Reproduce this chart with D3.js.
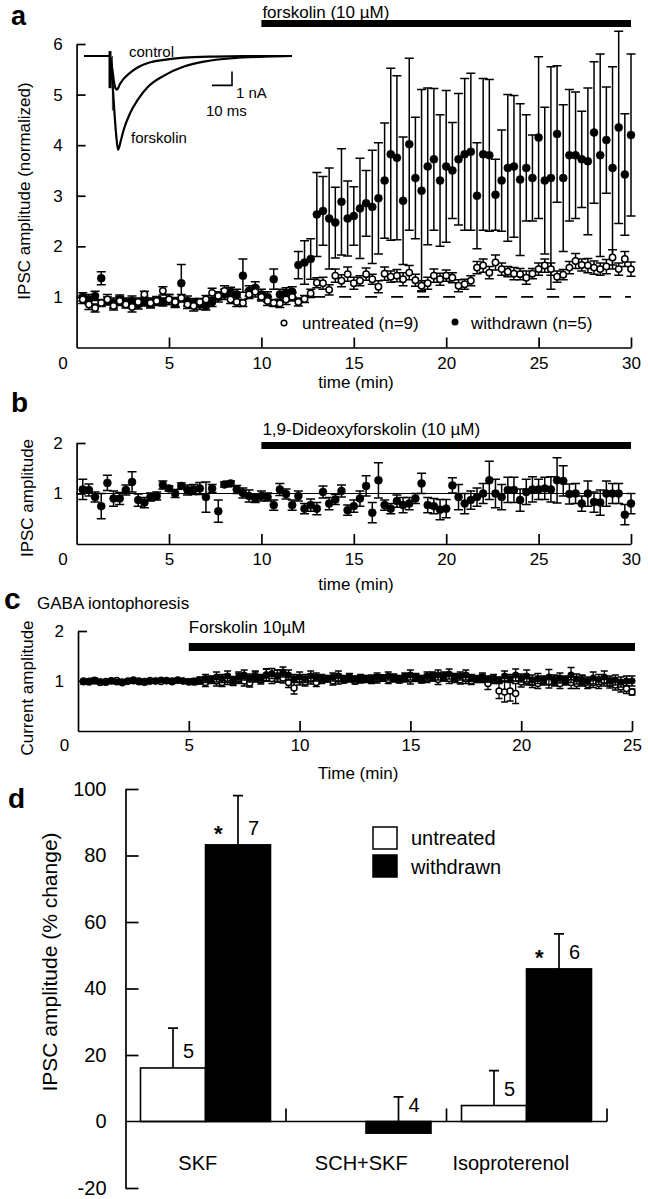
<!DOCTYPE html>
<html><head><meta charset="utf-8">
<script src="https://cdn.jsdelivr.net/npm/d3@7"></script>
<style>
body{margin:0;background:#fff}
svg{display:block}
text{font-family:"Liberation Sans",Arial,Helvetica,sans-serif;fill:#000}
</style></head>
<body><svg id="chart" width="648" height="1199"></svg>
<script>
// ---------------- DATA ----------------
// Panel a: sampled every 20 s (index i -> i/3 min), i = 1..90
const sampleStepA = 1/3;
const aUntreated = [0.95,0.85,0.78,0.88,0.95,0.82,0.92,0.85,0.8,0.9, 1.05,0.88,0.92,1.12,0.95,0.9,0.98,0.85,0.82,0.9,
 0.95,1.08,1.02,1.12,0.95,0.9,0.88,1.05,1.1,1.0, 0.92,0.88,0.87,0.95,1.0, 0.9,0.96,1.07,
 1.28,1.27,1.14,1.42,1.32,1.45,1.27,1.32,1.45,1.35, 1.2,1.46,1.40,1.42,1.35,1.48,1.33,1.22,1.27,1.42,
 1.35,1.42,1.38,1.22,1.25,1.32,1.58,1.62,1.48,1.68, 1.55,1.50,1.46,1.45,1.38,1.46,1.55,1.62,1.55,1.40,
 1.44,1.58,1.71,1.63,1.62,1.58,1.55,1.60,1.78,1.55, 1.75,1.55];
const aUntreatedErr = [.08,.1,.08,.07,.1,.08,.09,.07,.1,.08, .06,.08,.07,.08,.1,.09,.07,.08,.1,.07,
 .08,.09,.07,.1,.08,.09,.07,.08,.1,.08, .09,.07,.08,.1,.08, .08,.07,.08,
 .1,.12,.1,.13,.12,.14,.12,.1,.12,.1, .12,.13,.11,.12,.13,.14,.12,.1,.12,.13,
 .12,.11,.1,.12,.1,.1,.12,.13,.12,.15, .12,.1,.12,.11,.13,.1,.12,.13,.12,.11,
 .1,.12,.15,.12,.14,.13,.12,.14,.15,.12, .15,.14];
const aWithdrawn = [1.0,0.95,1.02,1.37,0.92,0.88,0.95,0.9,0.92,0.85, 0.9,0.88,0.92,0.9,0.95,0.88,1.27,0.92,0.88,0.85,
 0.82,0.9,1.0,1.05,1.1,1.05,1.42,1.12,1.18,1.05, 1.0,1.35,1.05,1.08,1.1,
 1.63,1.68,1.75,2.63,2.7,2.55,2.47,2.88,2.55,2.6, 2.75,2.85,2.78,2.95,3.3,3.82,3.75,2.9,4.02,3.35,
 3.1,3.58,3.72,3.3,3.58,3.5,3.72,3.82,3.87,3.0, 3.82,3.8,3.02,3.3,3.55,3.58,3.32,3.55,3.35,4.15,
 3.3,3.35,4.22,3.35,3.8,3.8,3.72,3.68,4.25,3.8, 4.1,3.55,4.35,3.42,4.2];
const aWithdrawnErr = [.08,.1,.09,.13,.08,.1,.09,.08,.1,.09, .08,.1,.09,.08,.1,.09,.37,.1,.09,.1,
 .08,.09,.1,.1,.09,.1,.33,.1,.12,.1, .1,.2,.1,.1,.1,
 .27,.43,.4,.83,.68,1.0,.7,1.05,.74,.58, .99,.65,1.12,1.1,1.14,1.7,1.62,1.26,1.7,1.2,
 2.0,1.55,1.4,1.3,1.5,0.95,1.3,1.5,1.55,1.05, 1.5,1.5,0.7,1.0,1.45,1.4,1.5,1.05,0.85,1.6,
 1.45,2.2,1.35,1.45,1.3,1.25,0.95,1.45,1.4,2.0, 1.05,2.0,1.9,1.2,1.6];
const drugA = [10, 30];
const dashStartA = 12.8;

// Inset traces (ms, nA)
const traceControl = [[0,0],[13,0],[14,-0.8],[15.5,-2.2],[16.5,-2.4],[18,-2.0],[20,-1.6],[23,-1.2],[27,-0.8],[32,-0.5],[40,-0.28],[50,-0.12],[65,-0.04],[80,-0.01],[104,0]];
const traceForskolin = [[0,0],[13,0],[14,-1.5],[16,-5.5],[17,-6.7],[18.5,-6.0],[20,-5.2],[23,-4.1],[27,-3.1],[32,-2.2],[40,-1.4],[50,-0.75],[60,-0.4],[75,-0.15],[90,-0.05],[104,0]];

// Panel b: 1,9-dideoxyforskolin, i = 1..90 every 20 s
const bVals = [1.08,1.07,0.93,0.75,1.21,0.90,0.90,1.07,1.23,0.87, 0.82,0.93,0.95,1.17,1.10,1.0,1.15,1.07,1.08,1.10,
 0.93,1.10,0.65,1.18,1.20,1.08,1.01,0.95,0.90,0.95, 0.93,0.77,1.08,0.99,0.77,0.95,0.70,0.77,0.70,1.03,
 0.80,0.88,1.05,0.67,0.75,0.90,1.15,0.62,1.26,0.77, 0.70,0.85,0.77,0.80,0.90,1.20,0.77,0.75,0.68,0.70,
 1.16,0.93,0.80,0.87,0.93,1.0,1.26,1.0,0.93,1.07, 1.07,0.87,1.03,1.08,1.08,1.10,1.08,1.26,1.25,0.99,
 1.0,0.80,1.0,0.83,0.82,1.0,1.0,1.0,0.58,0.80];
const bErr = [.2,.12,.1,.25,.15,.15,.12,.1,.2,.12, .1,.08,.08,.08,.05,.08,.06,.1,.1,.12,
 .3,.08,.22,.05,.05,.08,.1,.12,.08,.1, .08,.1,.12,.1,.1,.1,.1,.12,.12,.12,
 .12,.1,.12,.1,.12,.15,.2,.2,.35,.1, .1,.12,.15,.12,.1,.2,.15,.15,.2,.18,
 .15,.25,.2,.18,.18,.2,.38,.28,.25,.25, .25,.22,.25,.25,.2,.22,.25,.45,.3,.2,
 .2,.15,.25,.2,.25,.25,.2,.2,.2,.2];
const drugB = [10, 30];

// Panel c: GABA iontophoresis, i = 1..100 every 15 s
const sampleStepC = 0.25;
const cFilled = [0.98,1.0,1.02,0.99,0.97,1.01,0.98,0.96,0.99,1.0,0.98,0.97,0.99,1.0,1.02,1.0,0.98,1.01,1.0,0.99,
 1.0,1.02,1.05,1.03,1.08,1.05,1.1,1.02,1.08,1.12,1.06,1.1,1.05,1.12,1.15,1.1,1.18,1.12,1.05,1.08,
 1.05,1.1,1.08,1.06,1.04,1.08,1.1,1.05,1.07,1.04,1.06,1.03,1.05,1.08,1.06,1.1,1.07,1.05,1.08,1.12,
 1.06,1.05,1.1,1.08,1.12,1.1,1.14,1.08,1.1,1.12,1.06,1.05,1.08,1.04,1.06,1.02,1.1,1.05,1.12,1.06,
 1.1,1.02,1.05,1.0,1.08,1.02,1.06,1.0,1.12,1.04,1.02,1.0,1.06,1.03,1.08,1.0,1.02,0.98,1.0,1.0];
const cFilledErr = [.04,.03,.04,.03,.04,.03,.04,.03,.03,.04,.03,.04,.03,.04,.03,.04,.03,.04,.03,.04,
 .05,.06,.08,.07,.1,.08,.1,.07,.1,.1,.08,.1,.08,.12,.1,.12,.1,.1,.08,.1,
 .08,.1,.08,.07,.06,.08,.1,.06,.08,.06,.07,.06,.07,.08,.06,.08,.07,.06,.08,.1,
 .07,.06,.08,.08,.1,.08,.1,.07,.08,.1,.07,.06,.08,.06,.07,.06,.1,.08,.12,.08,
 .12,.1,.1,.08,.15,.1,.1,.08,.15,.1,.1,.08,.12,.1,.12,.1,.1,.1,.1,.1];
const cOpen = [1.0,0.98,1.0,0.97,0.99,1.0,1.01,0.98,1.0,1.02,1.0,0.99,1.01,1.0,0.99,1.01,1.0,1.02,1.0,0.98,
 0.98,1.0,0.97,1.02,1.0,0.97,1.03,0.98,1.05,1.0,0.96,1.08,1.02,1.12,1.05,1.1,1.06,0.97,0.86,1.02,
 0.98,1.04,0.97,1.02,1.05,1.0,1.04,1.02,1.06,1.0,1.03,1.05,1.02,1.04,1.06,1.03,1.05,1.02,1.06,1.04,
 1.08,1.02,1.05,1.1,1.03,1.08,1.05,1.04,1.02,1.05,1.0,1.03,1.05,0.95,1.02,0.8,0.78,0.8,0.75,0.98,
 1.0,0.97,0.95,1.02,0.98,1.0,0.95,1.02,0.97,0.95,1.0,0.93,0.97,0.95,1.0,0.96,0.92,0.88,0.85,0.78];
const cOpenErr = [.03,.03,.03,.03,.03,.03,.03,.03,.03,.03,.03,.03,.03,.03,.03,.03,.03,.03,.03,.03,
 .05,.06,.08,.07,.1,.08,.1,.07,.1,.1,.08,.1,.08,.12,.1,.12,.1,.1,.12,.1,
 .08,.1,.08,.07,.06,.08,.1,.06,.08,.06,.07,.06,.07,.08,.06,.08,.07,.06,.08,.1,
 .07,.06,.08,.08,.1,.08,.1,.07,.08,.1,.07,.06,.08,.12,.07,.15,.2,.2,.2,.1,
 .08,.1,.1,.08,.12,.1,.1,.08,.12,.1,.1,.08,.1,.1,.1,.1,.1,.1,.1,.06];
const drugC = [5, 25];

// Panel d: % change bars
const categoriesD = ["SKF","SCH+SKF","Isoproterenol"];
const groupsD = ["untreated","withdrawn"];
const untreatedPct = [16.1, null, 4.8];
const untreatedErr = [12.0, null, 10.5];
const untreatedN = ["5", null, "5"];
const withdrawnPct = [83.2, -3.5, 45.9];
const withdrawnErr = [14.8, 10.9, 10.5];
const withdrawnN = ["7", "4", "6"];
const significantD = [true, false, true];
const yTicksD = [-20,0,20,40,60,80,100];

// ---------------- DRAW ----------------
const FONT = '"Liberation Sans", Arial, Helvetica, sans-serif';
const svg = d3.select("#chart");
const AX = 1.7;

function styleAxis(g, fs){
  g.attr("font-family", FONT).attr("font-size", fs);
  g.selectAll("path.domain").attr("stroke","#000").attr("stroke-width",AX);
  g.selectAll(".tick line").attr("stroke","#000").attr("stroke-width",AX);
  g.selectAll("text").attr("fill","#000");
}
function txt(x, y, s, fs, opts={}){
  const t = svg.append("text").attr("x",x).attr("y",y).attr("font-size",fs).text(s);
  if(!opts.baseline) t.attr("dy","0.35em");
  if(opts.anchor) t.attr("text-anchor",opts.anchor);
  if(opts.weight) t.attr("font-weight",opts.weight);
  if(opts.rot){ t.attr("transform",`rotate(-90,${x},${y})`); }
  return t;
}
function scatter(g, xs, ys, times, vals, errs, opt){
  const idx = d3.range(vals.length);
  g.append("g").selectAll("path").data(idx).join("path")
    .attr("d", i => {
      const x = xs(times[i]), y1 = ys(vals[i]-errs[i]), y2 = ys(vals[i]+errs[i]), c = opt.cap;
      return `M${x},${y1}V${y2}M${x-c},${y1}H${x+c}M${x-c},${y2}H${x+c}`;
    })
    .attr("stroke","#000").attr("stroke-width",opt.sw).attr("fill","none");
  g.append("g").selectAll("circle").data(idx).join("circle")
    .attr("cx", i => xs(times[i])).attr("cy", i => ys(vals[i])).attr("r", opt.r)
    .attr("fill", opt.filled ? "#000" : "#fff").attr("stroke","#000")
    .attr("stroke-width", opt.filled ? 0.5 : 1.5);
}
const intFmt = d => String(d);

// ----- Panel a -----
const timesA = d3.range(1, aUntreated.length+1).map(i => i*sampleStepA);
const xA = d3.scaleLinear().domain([0,30]).range([76.6,631]);
const yA = d3.scaleLinear().domain([0,6]).range([347.5,44]);

txt(11, 25, "a", 27, {weight:"bold", baseline:true});
svg.append("rect").attr("x", xA(drugA[0])).attr("y",20).attr("width", xA(drugA[1])-xA(drugA[0])).attr("height",7).attr("fill","#000");
txt(xA(drugA[0])+1, 12, "forskolin (10 \u00b5M)", 17);

const gAy = svg.append("g").attr("transform",`translate(${xA(0)},0)`)
  .call(d3.axisLeft(yA).tickValues([1,2,3,4,5,6]).tickSize(-9).tickSizeOuter(0).tickPadding(14).tickFormat(intFmt));
styleAxis(gAy, 17);
const gAx = svg.append("g").attr("transform",`translate(0,${yA(0)})`)
  .call(d3.axisBottom(xA).tickValues([0,5,10,15,20,25,30]).tickSize(-10).tickSizeOuter(0).tickPadding(9).tickFormat(intFmt));
styleAxis(gAx, 17);
gAx.selectAll(".tick").filter(d => d === 0).select("text").attr("x",-14);
gAx.selectAll(".tick").filter(d => d === 0).select("line").remove();
txt(356, 382, "time (min)", 17, {anchor:"middle"});
txt(24, 191, "IPSC amplitude (normalized)", 17, {anchor:"middle", rot:true});

// dashed baseline
svg.append("line").attr("x1", xA(dashStartA)).attr("x2", xA(30)).attr("y1", yA(1)).attr("y2", yA(1))
  .attr("stroke","#000").attr("stroke-width",1.6).attr("stroke-dasharray","12,14");

const gA = svg.append("g");
scatter(gA, xA, yA, timesA, aWithdrawn, aWithdrawnErr, {filled:true, r:4, cap:4.5, sw:1.5});
scatter(gA, xA, yA, timesA, aUntreated, aUntreatedErr, {filled:false, r:3.2, cap:4.5, sw:1.5});

// legend a
svg.append("circle").attr("cx",284).attr("cy",323).attr("r",2.8).attr("fill","#fff").attr("stroke","#000").attr("stroke-width",1.5);
txt(302, 323, "untreated (n=9)", 17);
svg.append("circle").attr("cx",455).attr("cy",322).attr("r",3.5).attr("fill","#000");
txt(471, 323, "withdrawn (n=5)", 17);

// inset
const xI = d3.scaleLinear().domain([0,10]).range([84,104]);   // 10 ms = 20 px
const yI = d3.scaleLinear().domain([0,-1]).range([56,70]);     // 1 nA = 14 px
const lineI = d3.line().x(d => xI(d[0])).y(d => yI(d[1])).curve(d3.curveMonotoneX);
svg.append("path").attr("d", lineI(traceControl)).attr("fill","none").attr("stroke","#000").attr("stroke-width",2.2);
svg.append("path").attr("d", lineI(traceForskolin)).attr("fill","none").attr("stroke","#000").attr("stroke-width",2.2);
svg.append("line").attr("x1",xI(13)).attr("x2",xI(13)).attr("y1",yI(0.35)).attr("y2",yI(-2.3)).attr("stroke","#000").attr("stroke-width",3);
svg.append("line").attr("x1",xI(14.2)).attr("x2",xI(14.2)).attr("y1",yI(0)).attr("y2",yI(-3.9)).attr("stroke","#000").attr("stroke-width",0.8);
svg.append("path").attr("d",`M${xI(64)},${yI(-2.1)}H${xI(74)}V${yI(-1.1)}`).attr("fill","none").attr("stroke","#000").attr("stroke-width",1.6);
txt(236, 93, "1 nA", 15);
txt(206, 111, "10 ms", 15);
txt(129, 52, "control", 15);
txt(131, 138, "forskolin", 15);

// ----- Panel b -----
const xB = xA.copy();
const yB = d3.scaleLinear().domain([0,2]).range([544,443]);
txt(11, 412, "b", 28, {weight:"bold", baseline:true});
svg.append("rect").attr("x", xB(drugB[0])).attr("y",442).attr("width", xB(drugB[1])-xB(drugB[0])).attr("height",7).attr("fill","#000");
txt(xB(drugB[0])+1, 429, "1,9-Dideoxyforskolin (10 \u00b5M)", 17);
const gBy = svg.append("g").attr("transform",`translate(${xB(0)},0)`)
  .call(d3.axisLeft(yB).tickValues([1,2]).tickSize(-9).tickSizeOuter(0).tickPadding(14).tickFormat(intFmt));
styleAxis(gBy, 17);
const gBx = svg.append("g").attr("transform",`translate(0,${yB(0)})`)
  .call(d3.axisBottom(xB).tickValues([0,5,10,15,20,25,30]).tickSize(-10).tickSizeOuter(0).tickPadding(9).tickFormat(intFmt));
styleAxis(gBx, 17);
gBx.selectAll(".tick").filter(d => d === 0).select("text").attr("x",-14);
gBx.selectAll(".tick").filter(d => d === 0).select("line").remove();
txt(356, 584, "time (min)", 17, {anchor:"middle"});
txt(27, 498, "IPSC amplitude", 17, {anchor:"middle", rot:true});
svg.append("line").attr("x1", xB(0)).attr("x2", xB(30)).attr("y1", yB(1)).attr("y2", yB(1)).attr("stroke","#000").attr("stroke-width",1);
const timesB = d3.range(1, bVals.length+1).map(i => i*sampleStepA);
scatter(svg.append("g"), xB, yB, timesB, bVals, bErr, {filled:true, r:4, cap:4.5, sw:1.5});

// ----- Panel c -----
const xC = d3.scaleLinear().domain([0,25]).range([78,632]);
const yC = d3.scaleLinear().domain([0,2]).range([731,631]);
txt(4, 609, "c", 30, {weight:"bold", baseline:true});
txt(37, 603, "GABA iontophoresis", 17);
svg.append("rect").attr("x", xC(drugC[0])).attr("y",643).attr("width", xC(drugC[1])-xC(drugC[0])+3).attr("height",8).attr("fill","#000");
txt(xC(drugC[0]), 627, "Forskolin 10\u00b5M", 17);
const gCy = svg.append("g").attr("transform",`translate(${xC(0)},0)`)
  .call(d3.axisLeft(yC).tickValues([1,2]).tickSize(-9).tickSizeOuter(0).tickPadding(14).tickFormat(intFmt));
styleAxis(gCy, 17);
const gCx = svg.append("g").attr("transform",`translate(0,${yC(0)})`)
  .call(d3.axisBottom(xC).tickValues([0,5,10,15,20,25]).tickSize(-10).tickSizeOuter(0).tickPadding(8).tickFormat(intFmt));
styleAxis(gCx, 17);
gCx.selectAll(".tick").filter(d => d === 0).select("text").attr("x",-14);
gCx.selectAll(".tick").filter(d => d === 0).select("line").remove();
txt(358, 773, "Time (min)", 17, {anchor:"middle"});
txt(27, 688, "Current amplitude", 17, {anchor:"middle", rot:true});
svg.append("line").attr("x1", xC(0)).attr("x2", xC(25)).attr("y1", yC(1)).attr("y2", yC(1)).attr("stroke","#000").attr("stroke-width",1);
const timesC = d3.range(1, cFilled.length+1).map(i => i*sampleStepC);
const gC = svg.append("g");
scatter(gC, xC, yC, timesC, cOpen, cOpenErr, {filled:false, r:3, cap:3.5, sw:1.3});
scatter(gC, xC, yC, timesC, cFilled, cFilledErr, {filled:true, r:3.3, cap:3.5, sw:1.3});

// ----- Panel d -----
const yD = d3.scaleLinear().domain([-20,100]).range([1188,789]);
const xD = d3.scaleBand().domain(categoriesD).range([125.5,607]).padding(0);
const xD1 = d3.scaleBand().domain(groupsD).range([15,145]).padding(0);
txt(8, 808, "d", 28, {weight:"bold", baseline:true});
const gDy = svg.append("g").attr("transform",`translate(${xD.range()[0]},0)`)
  .call(d3.axisLeft(yD).tickValues(yTicksD).tickSize(-13).tickSizeOuter(0).tickPadding(19).tickFormat(intFmt));
styleAxis(gDy, 20);
gDy.selectAll(".tick").filter(d => d === 0).select("line").remove();
txt(50, 962, "IPSC amplitude (% change)", 21, {anchor:"middle", rot:true});

const dRows = [];
categoriesD.forEach((c, i) => {
  dRows.push({cat:c, grp:"untreated", v:untreatedPct[i], e:untreatedErr[i], n:untreatedN[i], sig:false});
  dRows.push({cat:c, grp:"withdrawn", v:withdrawnPct[i], e:withdrawnErr[i], n:withdrawnN[i], sig:significantD[i]});
});
const dValid = dRows.filter(r => r.v !== null);
const bx = r => xD(r.cat) + xD1(r.grp);
const gD = svg.append("g");
gD.selectAll("path.err").data(dValid).join("path").attr("class","err")
  .attr("d", r => { const x = bx(r) + xD1.bandwidth()/2; const y1 = yD(r.v), y2 = yD(r.v + r.e);
    return `M${x},${y1}V${y2}M${x-5},${y2}H${x+5}`; })
  .attr("stroke","#000").attr("stroke-width",1.7).attr("fill","none");
gD.selectAll("rect.bar").data(dValid).join("rect").attr("class","bar")
  .attr("x", r => bx(r)).attr("width", xD1.bandwidth())
  .attr("y", r => Math.min(yD(r.v), yD(0))).attr("height", r => Math.abs(yD(r.v) - yD(0)))
  .attr("fill", r => r.grp === "withdrawn" ? "#000" : "#fff")
  .attr("stroke","#000").attr("stroke-width",1.6);
gD.selectAll("text.n").data(dValid.filter(r => r.n)).join("text").attr("class","n")
  .attr("x", r => bx(r) + xD1.bandwidth()/2 + 10).attr("y", r => yD(Math.max(r.v,0)) - 17)
  .attr("dy","0.35em").attr("font-size",20).text(r => r.n);
gD.selectAll("text.s").data(dValid.filter(r => r.sig)).join("text").attr("class","s")
  .attr("x", r => bx(r) + xD1.bandwidth()/2 - 24).attr("y", r => yD(Math.max(r.v,0)) - 12)
  .attr("dy","0.35em").attr("font-size",22).attr("font-weight","bold").text("*");
svg.append("line").attr("x1", xD.range()[0]).attr("x2", xD.range()[1]).attr("y1", yD(0)).attr("y2", yD(0))
  .attr("stroke","#000").attr("stroke-width",AX);
svg.selectAll("line.sep").data(categoriesD).join("line").attr("class","sep")
  .attr("x1", c => xD(c) + xD.bandwidth()).attr("x2", c => xD(c) + xD.bandwidth())
  .attr("y1", yD(0)).attr("y2", yD(0) - 13).attr("stroke","#000").attr("stroke-width",AX);
const catNudge = {"SKF":-8, "SCH+SKF":-5, "Isoproterenol":-16};
svg.selectAll("text.cat").data(categoriesD).join("text").attr("class","cat")
  .attr("x", c => xD(c) + xD.bandwidth()/2 + catNudge[c]).attr("y", 1163).attr("dy","0.35em")
  .attr("text-anchor","middle").attr("font-size",20).text(c => c);
groupsD.forEach((g, i) => {
  svg.append("rect").attr("x",373).attr("y",827 + i*28).attr("width",24).attr("height",22)
    .attr("fill", g === "withdrawn" ? "#000" : "#fff").attr("stroke","#000").attr("stroke-width",1.5);
  txt(411, 838 + i*29, g, 20);
});
</script>
</body></html>
